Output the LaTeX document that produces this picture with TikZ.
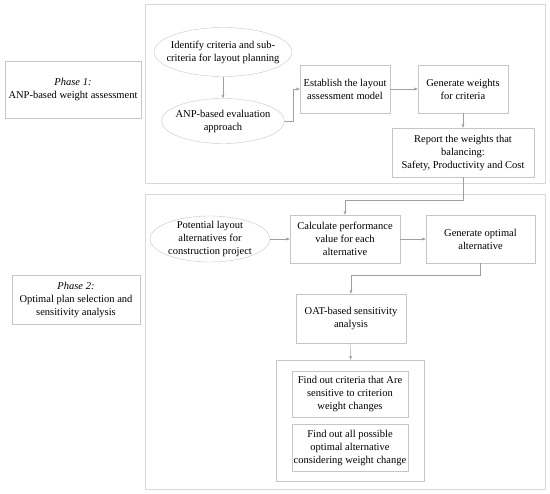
\documentclass[tikz,border=0pt]{standalone}
\usepackage{fontspec}
\setmainfont{Liberation Serif}
\usetikzlibrary{shapes.geometric,arrows.meta}

\tikzset{
	box/.style={draw=gray!45, rectangle, align=center, inner sep=2pt},
	ell/.style={draw=gray!45, ellipse, align=center, inner sep=-25pt},
	frame/.style={draw=gray!30},
	link/.style={draw=gray!75, -{Stealth[length=4pt, width=3pt]}}
}

\begin{document}
\begin{tikzpicture}[x=1pt, y=-1pt, font=\fontsize{10.5}{13}\selectfont]
		\useasboundingbox (0,0) rectangle (550,494);

		\draw[frame] (145,4) rectangle (545,183);
		\draw[frame] (145,194) rectangle (545,489);

		\node[box, minimum width=136pt, minimum height=57pt] (ph1) at (73,89.5) {\textit{Phase 1:}\\ANP-based weight assessment};
		\node[box, minimum width=128pt, minimum height=49pt] (ph2) at (76,299.5) {\textit{Phase 2:}\\Optimal plan selection and\\sensitivity analysis};

		\node[ell, minimum width=138pt, minimum height=49pt] (idf) at (223,52) {Identify criteria and sub-\\criteria for layout planning};
		\node[ell, minimum width=123pt, minimum height=45pt] (anp) at (223,121) {ANP-based evaluation\\approach};
		\node[box, minimum width=90pt, minimum height=48pt] (est) at (345,89) {Establish the layout\\assessment model};
		\node[box, minimum width=90pt, minimum height=48pt] (gen) at (463,89) {Generate weights\\for criteria};
		\node[box, minimum width=142pt, minimum height=49pt] (rep) at (463,152.5) {Report the weights that\\balancing:\\Safety, Productivity and Cost};

		\node[ell, minimum width=120pt, minimum height=46pt] (pot) at (210,239) {Potential layout\\alternatives for\\construction project};
		\node[box, minimum width=110pt, minimum height=48pt] (calc) at (345,239) {Calculate performance\\value for each\\alternative};
		\node[box, minimum width=109pt, minimum height=48pt] (opt) at (480.5,239) {Generate optimal\\alternative};
		\node[box, minimum width=110pt, minimum height=49pt] (oat) at (351,318.5) {OAT-based sensitivity\\analysis};
		\node[box, minimum width=148pt, minimum height=121pt] (grp) at (350,420.5) {};
		\node[box, minimum width=116pt, minimum height=46pt] (fnd1) at (350,394) {Find out criteria that Are\\sensitive to criterion\\weight changes};
		\node[box, minimum width=116pt, minimum height=47pt] (fnd2) at (350,447.5) {Find out all possible\\optimal alternative\\considering weight change};

		\draw[link] (idf) -- (anp);
		\draw[link] (anp.east) -- ++(8,0) |- (est);
		\draw[link] (est) -- (gen);
		\draw[link] (gen) -- (rep);
		\draw[link] (rep.south) -- ++(0,23) -| (calc);
		\draw[link] (pot) -- (calc);
		\draw[link] (calc) -- (opt);
		\draw[link] (opt.south) -- ++(0,12) -| (oat);
		\draw[link] (oat) -- (grp);
	\end{tikzpicture}
\end{document}
